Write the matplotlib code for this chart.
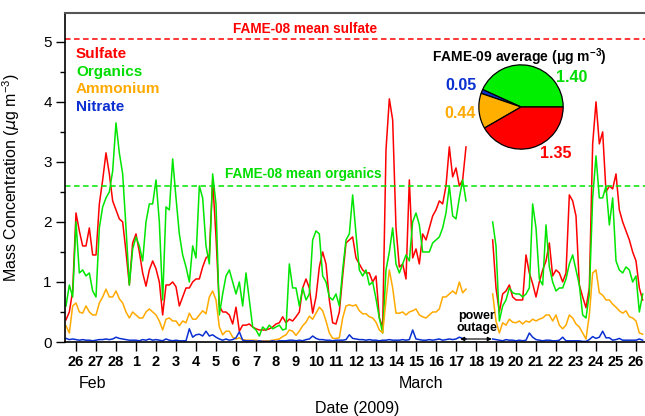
import numpy as np
import pandas as pd
import matplotlib
matplotlib.use("Agg")
import matplotlib.pyplot as plt
import matplotlib.dates as mdates
from matplotlib.ticker import MultipleLocator, FuncFormatter

plt.rcParams['font.family'] = ['Liberation Sans', 'DejaVu Sans']
plt.rcParams['mathtext.fontset'] = 'custom'
plt.rcParams['mathtext.rm'] = 'Liberation Sans'
plt.rcParams['mathtext.bf'] = 'Liberation Sans:bold'
plt.rcParams['lines.scale_dashes'] = False

nan = np.nan

# 4-hourly values from 2009-02-25 12:00, one row per day (00,04,08,12,16,20 h)
sulfate = [
    0.37, 0.5, 0.85,                       # Feb 25
    2.15, 1.85, 1.6, 1.6, 1.9, 1.45,       # Feb 26
    1.45, 2.3, 2.7, 3.15, 2.8, 2.35,       # Feb 27
    2.2, 2.05, 2.0, 1.5, 0.95, 1.65,       # Feb 28
    1.8, 1.5, 1.15, 0.93, 1.2, 1.35,       # Mar 1
    1.22, 1.0, 0.45, 0.95, 0.95, 1.0,      # Mar 2
    0.92, 0.6, 0.75, 0.9, 0.9, 1.0,        # Mar 3
    1.05, 1.05, 1.25, 1.4, 1.45, 2.7,      # Mar 4
    1.75, 0.6, 0.5, 0.5, 0.45, 0.3,        # Mar 5
    0.58, 0.18, 0.28, 0.28, 0.3, 0.25,     # Mar 6
    0.22, 0.2, 0.2, 0.2, 0.22, 0.25,       # Mar 7
    0.3, 0.32, 0.42, 0.32, 0.38, 0.35,     # Mar 8
    0.42, 0.5, 0.9, 1.05, 0.9, 0.48,       # Mar 9
    0.75, 1.25, 1.5, 1.3, 0.7, 0.32,       # Mar 10
    0.3, 0.5, 1.1, 1.65, 1.7, 1.75,        # Mar 11
    1.4, 1.3, 1.2, 1.15, 1.15, 1.0,        # Mar 12
    1.1, 0.4, 0.25, 3.2, 4.05, 3.7,        # Mar 13
    1.9, 1.25, 1.3, 1.05, 2.7, 1.4,        # Mar 14
    1.55, 1.3, 1.8, 1.7, 1.9, 2.1,         # Mar 15
    2.2, 2.35, 2.3, 2.6, 3.25, 2.75,       # Mar 16
    2.9, 2.6, 2.7, 3.25, nan, nan,         # Mar 17
    nan, nan, nan, nan, nan, 1.7,          # Mar 18
    0.9, 0.5, 0.8, 0.85, 0.95, 0.75,       # Mar 19
    0.7, 0.7, 0.7, 1.45, 1.15, 0.97,       # Mar 20
    0.75, 1.0, 1.2, 1.35, 1.65, 1.1,       # Mar 21
    1.2, 1.15, 1.0, 1.15, 2.45, 2.35,      # Mar 22
    2.1, 0.95, 0.75, 0.57, 0.9, 3.3,       # Mar 23
    4.0, 3.3, 3.5, 2.5, 2.6, 2.55,         # Mar 24
    2.8, 2.2, 2.0, 1.85, 1.7, 1.5,         # Mar 25
    1.35, 0.9, 0.7,                        # Mar 26
]
organics = [
    0.6, 0.95, 0.75,
    2.0, 1.15, 1.2, 1.1, 1.15, 0.85,
    0.75, 1.9, 2.25, 2.4, 2.5, 2.85,
    3.65, 3.15, 2.8, 1.9, 0.95, 1.55,
    1.75, 1.6, 1.35, 2.0, 2.3, 2.3,
    2.7, 2.0, 0.7, 2.25, 2.2, 3.05,
    2.4, 1.8, 1.45, 1.25, 1.0, 1.6,
    1.4, 2.6, 2.4, 1.6, 1.3, 2.8,
    2.3, 0.45, 0.8, 1.1, 1.2, 1.0,
    0.8, 1.0, 0.6, 1.15, 0.7, 0.25,
    0.2, 0.1, 0.25, 0.2, 0.28, 0.22,
    0.25, 0.28, 0.2, 0.22, 1.3, 0.9,
    0.9, 0.6, 0.9, 0.7, 0.8, 1.7,
    1.85, 1.8, 1.1, 1.0, 0.75, 0.7,
    0.8, 0.6, 1.2, 1.7, 1.8, 2.45,
    1.8, 1.2, 1.1, 1.2, 0.95, 1.0,
    0.72, 0.4, 0.15, 1.2, 1.5, 1.9,
    1.3, 1.15, 1.3, 1.45, 1.35, 2.0,
    2.15, 1.95, 1.5, 1.5, 1.5, 1.65,
    1.7, 1.75, 1.9, 2.15, 2.6, 2.1,
    2.05, 2.4, 2.7, 2.35, nan, nan,
    nan, nan, nan, nan, nan, 2.0,
    1.6, 0.35, 0.6, 0.7, 0.9, 0.82,
    0.8, 0.8, 0.75, 0.8, 0.9, 2.3,
    1.9, 1.05, 0.95, 1.95, 1.25, 1.0,
    0.85, 0.9, 0.9, 1.05, 1.3, 1.45,
    1.2, 0.95, 0.45, 0.4, 0.8, 2.4,
    3.1, 2.4, 2.4, 2.6, 1.95, 2.4,
    1.35, 1.2, 1.15, 1.25, 1.2, 1.0,
    1.1, 0.5, 0.8,
]
ammonium = [
    0.27, 0.15, 0.6,
    0.65, 0.5, 0.48, 0.6, 0.5, 0.45,
    0.45, 0.65, 0.75, 0.88, 0.75, 0.75,
    0.85, 0.72, 0.65, 0.5, 0.4, 0.5,
    0.45, 0.4, 0.4, 0.5, 0.55, 0.5,
    0.45, 0.35, 0.2, 0.38, 0.4, 0.35,
    0.35, 0.27, 0.35, 0.32, 0.48, 0.38,
    0.38, 0.45, 0.52, 0.47, 0.75, 0.85,
    0.7, 0.25, 0.12, 0.18, 0.18, 0.08,
    0.05, 0.07, 0.04, 0.03, 0.03, 0.03,
    0.03, 0.02, 0.02, 0.02, 0.02, 0.03,
    0.04, 0.05, 0.09, 0.12, 0.2, 0.18,
    0.11, 0.18, 0.27, 0.33, 0.43, 0.38,
    0.48, 0.58, 0.52, 0.35, 0.15, 0.06,
    0.06, 0.07, 0.4, 0.6, 0.62, 0.6,
    0.62, 0.52, 0.47, 0.47, 0.42, 0.4,
    0.33, 0.2, 0.15, 0.7, 1.2, 0.9,
    0.48, 0.48, 0.5, 0.45, 0.5, 0.52,
    0.55, 0.45, 0.42, 0.4, 0.45, 0.5,
    0.5, 0.55, 0.75, 0.75, 0.8, 0.85,
    0.8, 1.0, 0.82, 0.88, nan, nan,
    nan, nan, nan, nan, nan, 0.8,
    0.35, 0.15, 0.32, 0.28, 0.38, 0.33,
    0.32, 0.35, 0.3, 0.35, 0.33, 0.38,
    0.35, 0.38, 0.4, 0.45, 0.45, 0.35,
    0.45, 0.28, 0.22, 0.28, 0.45, 0.4,
    0.3, 0.25, 0.15, 0.05, 0.45, 1.15,
    1.2, 0.82, 0.78, 0.7, 0.7, 0.63,
    0.58, 0.52, 0.48, 0.52, 0.42, 0.4,
    0.35, 0.15, 0.13,
]
nitrate = [
    0.06, 0.04, 0.05,
    0.04, 0.03, 0.04, 0.03, 0.03, 0.02,
    0.03, 0.04, 0.04, 0.05, 0.04, 0.05,
    0.08, 0.06, 0.05, 0.04, 0.03, 0.03,
    0.03, 0.02, 0.04, 0.03, 0.05, 0.03,
    0.04, 0.03, 0.02, 0.05, 0.03, 0.02,
    0.03, 0.02, 0.02, 0.02, 0.22, 0.08,
    0.12, 0.13, 0.1, 0.18, 0.1, 0.12,
    0.08, 0.05, 0.03, 0.05, 0.03, 0.04,
    0.07, 0.17, 0.03, 0.02, 0.02, 0.02,
    0.01, 0.02, 0.01, 0.01, 0.01, 0.02,
    0.01, 0.02, 0.02, 0.02, 0.03, 0.03,
    0.02, 0.03, 0.02, 0.04, 0.05, 0.1,
    0.06, 0.04, 0.04, 0.03, 0.03, 0.02,
    0.03, 0.03, 0.03, 0.04, 0.12, 0.06,
    0.05, 0.04, 0.04, 0.03, 0.04, 0.03,
    0.03, 0.02, 0.03, 0.03, 0.04, 0.03,
    0.03, 0.03, 0.04, 0.03, 0.04, 0.2,
    0.05, 0.04, 0.03, 0.03, 0.04, 0.03,
    0.04, 0.05, 0.03, 0.04, 0.05, 0.04,
    0.05, 0.08, 0.06, 0.05, nan, nan,
    nan, nan, nan, nan, nan, 0.05,
    0.04, 0.03, 0.02, 0.04, 0.03, 0.03,
    0.02, 0.03, 0.02, 0.03, 0.15, 0.08,
    0.04, 0.03, 0.02, 0.03, 0.03, 0.02,
    0.02, 0.03, 0.08, 0.02, 0.02, 0.02,
    0.02, 0.02, 0.01, 0.01, 0.04, 0.09,
    0.06, 0.08, 0.18, 0.07, 0.07, 0.03,
    0.04, 0.06, 0.03, 0.03, 0.03, 0.03,
    0.03, 0.05, 0.03,
]

species = ['Sulfate', 'Organics', 'Ammonium', 'Nitrate']
colors = ['#FF0000', '#00E600', '#FFAA00', '#0A30D2']
text_colors = ['#FF0000', '#00DD00', '#FFAA00', '#0A30D2']

fame08_sulfate = 5.05
fame08_organics = 2.6

# FAME-09 campaign averages for the pie (ug m-3)
pie_labels = ['1.40', '0.05', '0.44', '1.35']
pie_values = [1.40, 0.05, 0.44, 1.35]
pie_colors = ['#00EE00', '#0A30D2', '#FFAF00', '#FF0000']
pie_text_colors = ['#00DD00', '#0A30D2', '#FFAA00', '#FF0000']

times = pd.date_range('2009-02-25 12:00', periods=len(sulfate), freq='4h')

W, H = 645, 416
fig = plt.figure(figsize=(W / 100, H / 100), dpi=100)
ax = fig.add_axes([65 / W, 1 - 342 / H, (W - 65) / W, (342 - 13) / H])

for vals, c in zip([sulfate, organics, ammonium, nitrate], colors):
    ax.plot(times, vals, color=c, lw=1.1, solid_joinstyle='round')

ax.axhline(fame08_sulfate, color='#FF0000', lw=1.1, dashes=(4.0, 2.5))
ax.axhline(fame08_organics, color='#00E600', lw=1.1, dashes=(4.0, 2.5))

ax.set_xlim(pd.Timestamp('2009-02-25 10:48'), pd.Timestamp('2009-03-26 10:48'))
ax.set_ylim(0, 5.48)

ax.xaxis.set_major_locator(mdates.DayLocator())
ax.xaxis.set_major_formatter(FuncFormatter(lambda x, p: str(mdates.num2date(x).day)))
ax.yaxis.set_major_locator(MultipleLocator(1))
ax.yaxis.set_minor_locator(MultipleLocator(0.5))
ax.tick_params(axis='x', direction='out', length=6.5, width=1.0, pad=3,
               labelsize=10.5)
ax.tick_params(axis='y', which='major', direction='out', length=6.5, width=1.0,
               pad=3, labelsize=11)
ax.tick_params(axis='y', which='minor', direction='out', length=3.5, width=1.0)
for lab in ax.get_xticklabels():
    lab.set_fontweight('bold')

ax.spines['right'].set_visible(False)
ax.spines['top'].set_color('#555555')
ax.spines['top'].set_linewidth(1.5)
ax.spines['left'].set_linewidth(1.2)
ax.spines['bottom'].set_linewidth(1.2)

ax.set_ylabel(r'Mass Concentration ($\mu$g m$^{-3}$)', fontsize=11.5)
ax.yaxis.set_label_coords(-43 / 580, 0.5)
fig.text(357 / W, 1 - 408 / H, 'Date (2009)', fontsize=11.5, ha='center', va='center')
fig.text(92 / W, 1 - 383 / H, 'Feb', fontsize=11.5, ha='center', va='center')
fig.text(421 / W, 1 - 383 / H, 'March', fontsize=11.5, ha='center', va='center')

# species legend as coloured text
for i, (name, c) in enumerate(zip(species, text_colors)):
    fig.text(76 / W, 1 - (54 + 17.6 * i) / H, name, color=c, fontsize=11,
             fontweight='bold', ha='left', va='center')

fig.text(305 / W, 1 - 29 / H, 'FAME-08 mean sulfate', color='#FF0000',
         fontsize=9.8, fontweight='bold', ha='center', va='center')
fig.text(303 / W, 1 - 174 / H, 'FAME-08 mean organics', color='#00DD00',
         fontsize=9.8, fontweight='bold', ha='center', va='center')

# power outage marker
ax.annotate('', xy=(pd.Timestamp('2009-03-18 19:00'), 0.05),
            xytext=(pd.Timestamp('2009-03-17 05:00'), 0.05),
            arrowprops=dict(arrowstyle='<|-|>', lw=0.8, color='black',
                            mutation_scale=6, shrinkA=0, shrinkB=0))
ax.text(pd.Timestamp('2009-03-18 01:00'), 0.33, 'power\noutage', fontsize=9,
        fontweight='bold', ha='center', va='center', linespacing=1.0)

# pie inset
pax = fig.add_axes([(521 - 43) / W, 1 - (107 + 43) / H, 86 / W, 86 / H])
pax.pie(pie_values, colors=pie_colors, startangle=0, counterclock=True,
        wedgeprops=dict(edgecolor='black', linewidth=0.9))
pax.set_aspect('equal')
pax.set_xlim(-1.02, 1.02)
pax.set_ylim(-1.02, 1.02)
pax.axis('off')

fig.text(519 / W, 1 - 57 / H, r'FAME-09 average ($\mathbf{\mu}$g m$^{\mathbf{-3}}$)',
         fontsize=10, fontweight='bold', ha='center', va='center')
label_pos = [(572, 77), (461, 85), (460, 113), (556, 154)]
for lab, c, (px, py) in zip(pie_labels, pie_text_colors, label_pos):
    fig.text(px / W, 1 - py / H, lab, color=c, fontsize=11.5, fontweight='bold',
             ha='center', va='center')

fig.savefig('out.png', dpi=100)
